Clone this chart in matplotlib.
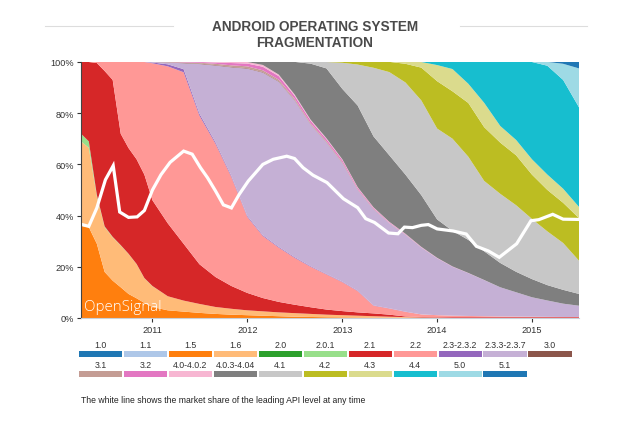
import matplotlib
matplotlib.use("Agg")
import matplotlib.pyplot as plt
from matplotlib.patches import Rectangle
import pandas as pd

# sample dates of the stacked shares (monthly in 2010, then every two months)
months = pd.to_datetime([
    "2010-04-01", "2010-05-01", "2010-06-01", "2010-07-01", "2010-08-01", "2010-09-01",
    "2010-10-01", "2010-11-01", "2010-12-01", "2011-01-01", "2011-03-01", "2011-05-01",
    "2011-07-01", "2011-09-01", "2011-11-01", "2012-01-01", "2012-03-01", "2012-05-01",
    "2012-07-01", "2012-09-01", "2012-11-01", "2013-01-01", "2013-03-01", "2013-05-01",
    "2013-07-01", "2013-09-01", "2013-11-01", "2014-01-01", "2014-03-01", "2014-05-01",
    "2014-07-01", "2014-09-01", "2014-11-01", "2015-01-01", "2015-03-01", "2015-05-01",
    "2015-07-01",
])

versions = ["1.0", "1.1", "1.5", "1.6", "2.0", "2.0.1", "2.1", "2.2", "2.3-2.3.2",
            "2.3.3-2.3.7", "3.0", "3.1", "3.2", "4.0-4.0.2", "4.0.3-4.04", "4.1",
            "4.2", "4.3", "4.4", "5.0", "5.1"]

colors = ["#1f77b4", "#aec7e8", "#ff7f0e", "#ffbb78", "#2ca02c", "#98df8a", "#d62728",
          "#ff9896", "#9467bd", "#c5b0d5", "#8c564b", "#c49c94", "#e377c2", "#f7b6d2",
          "#7f7f7f", "#c7c7c7", "#bcbd22", "#dbdb8d", "#17becf", "#9edae5", "#1f77b4"]

# market share in percent, one value per date above
share_1_0 = [0, 0, 0, 0, 0, 0, 0, 0, 0, 0, 0, 0, 0, 0, 0, 0, 0, 0, 0,
             0, 0, 0, 0, 0, 0, 0, 0, 0, 0, 0, 0, 0, 0, 0, 0, 0, 0]
share_1_1 = [0, 0, 0, 0, 0, 0, 0, 0, 0, 0, 0, 0, 0, 0, 0, 0, 0, 0, 0,
             0, 0, 0, 0, 0, 0, 0, 0, 0, 0, 0, 0, 0, 0, 0, 0, 0, 0]
share_1_5 = [36, 35.5, 29, 18, 14.6, 12, 9.4, 7.7, 5.9, 4.3, 3, 2.5, 2, 1.6, 1.3, 1.1, 0.9, 0.7, 0.5,
             0.4, 0.3, 0.25, 0.2, 0.15, 0.1, 0.05, 0, 0, 0, 0, 0, 0, 0, 0, 0, 0, 0]
share_1_6 = [33, 31, 18.5, 17.5, 16.9, 16.3, 15.6, 13.3, 9.6, 8.1, 5.5, 4.3, 3.5, 2.7, 2.3, 1.9, 1.7, 1.5, 1.4,
             1.2, 1.0, 0.85, 0.7, 0.55, 0.4, 0.3, 0.2, 0.1, 0, 0, 0, 0, 0, 0, 0, 0, 0]
share_2_0 = [0, 0, 0, 0, 0, 0, 0, 0, 0, 0, 0, 0, 0, 0, 0, 0, 0, 0, 0,
             0, 0, 0, 0, 0, 0, 0, 0, 0, 0, 0, 0, 0, 0, 0, 0, 0, 0]
share_2_0_1 = [3, 2.5, 0.6, 0.3, 0.2, 0.15, 0.1, 0.1, 0.1, 0.1, 0, 0, 0, 0, 0, 0, 0, 0, 0,
               0, 0, 0, 0, 0, 0, 0, 0, 0, 0, 0, 0, 0, 0, 0, 0, 0, 0]
share_2_1 = [28, 31, 51.5, 60.7, 61.3, 43.5, 41.3, 40.9, 40.4, 33.5, 28.5, 22.2, 15.5, 11.7, 8.9, 6.8, 5.2, 4.1, 3.3,
             2.6, 2.0, 1.6, 1.3, 1.1, 0.8, 0.25, 0.2, 0.2, 0.3, 0.3, 0.3, 0.3, 0.3, 0.3, 0.3, 0.3, 0.3]
share_2_2 = [0, 0, 0.4, 3.5, 7, 28.1, 33.6, 38, 44, 53.5, 61.3, 67, 58, 52, 42.5, 29.7, 24.2, 21.2, 18.3,
             15.8, 13.7, 11.3, 8.3, 3.0, 2.4, 1.8, 1.0, 0.8, 0.6, 0.5, 0.4, 0.3, 0.25, 0.2, 0.15, 0.1, 0.1]
share_2_3_0 = [0, 0, 0, 0, 0, 0, 0, 0, 0, 0.3, 0.8, 1.2, 0.8, 0.6, 0.5, 0.4, 0.35, 0.3, 0.3,
               0.25, 0.2, 0.2, 0.2, 0.15, 0.1, 0.1, 0, 0, 0, 0, 0, 0, 0, 0, 0, 0, 0]
share_2_3_3 = [0, 0, 0, 0, 0, 0, 0, 0, 0, 0.2, 0.7, 2.3, 19.4, 30, 42.4, 57.5, 63.5, 64.5, 61.2,
               55.3, 51.3, 46.3, 39.3, 37.5, 33.2, 30, 26.1, 22.2, 19.1, 16.7, 14.1, 11.4, 9.5, 7.6, 6.4, 5.2, 4.4]
share_3_0 = [0, 0, 0, 0, 0, 0, 0, 0, 0, 0, 0.1, 0.15, 0.2, 0.2, 0.2, 0.2, 0.2, 0.2, 0.15,
             0.1, 0.1, 0.1, 0.05, 0.05, 0, 0, 0, 0, 0, 0, 0, 0, 0, 0, 0, 0, 0]
share_3_1 = [0, 0, 0, 0, 0, 0, 0, 0, 0, 0, 0.1, 0.2, 0.3, 0.5, 0.6, 0.7, 0.7, 0.6, 0.5,
             0.4, 0.35, 0.3, 0.2, 0.15, 0.1, 0.1, 0.05, 0, 0, 0, 0, 0, 0, 0, 0, 0, 0]
share_3_2 = [0, 0, 0, 0, 0, 0, 0, 0, 0, 0, 0, 0.15, 0.3, 0.5, 0.9, 1.1, 1.4, 1.4, 1.2,
             1.0, 0.9, 0.8, 0.6, 0.4, 0.3, 0.2, 0.15, 0.1, 0.1, 0.05, 0, 0, 0, 0, 0, 0, 0]
share_4_0 = [0, 0, 0, 0, 0, 0, 0, 0, 0, 0, 0, 0, 0, 0.2, 0.4, 0.6, 0.7, 0.6, 0.5,
             0.4, 0.35, 0.3, 0.25, 0.2, 0.15, 0.1, 0.1, 0.1, 0.05, 0.05, 0.05, 0, 0, 0, 0, 0, 0]
share_4_0_3 = [0, 0, 0, 0, 0, 0, 0, 0, 0, 0, 0, 0, 0, 0, 0, 0, 1.2, 4.9, 12.7,
               21.9, 27.3, 27.5, 31.9, 27.7, 26, 23.1, 20.2, 15, 13.9, 12.9, 11.2, 9.5, 8, 7.1, 6.0, 5.4, 4.6]
share_4_1 = [0, 0, 0, 0, 0, 0, 0, 0, 0, 0, 0, 0, 0, 0, 0, 0, 0, 0, 0,
             0.7, 2.5, 10.2, 16, 26.8, 32.5, 36, 37, 35.5, 36, 32.5, 27.5, 27, 26, 23.5, 21, 18.3, 13]
share_4_2 = [0, 0, 0, 0, 0, 0, 0, 0, 0, 0, 0, 0, 0, 0, 0, 0, 0, 0, 0,
             0, 0, 0.3, 1.0, 2.3, 4, 7.3, 12.8, 18.5, 18.5, 21, 21, 20, 19.5, 17.3, 16.2, 15.7, 16.6]
share_4_3 = [0, 0, 0, 0, 0, 0, 0, 0, 0, 0, 0, 0, 0, 0, 0, 0, 0, 0, 0,
             0, 0, 0, 0, 0, 0, 0.7, 2.2, 6.3, 8.7, 7.5, 9.5, 6.5, 6, 6, 6, 5.5, 4.4]
share_4_4 = [0, 0, 0, 0, 0, 0, 0, 0, 0, 0, 0, 0, 0, 0, 0, 0, 0, 0, 0,
             0, 0, 0, 0, 0, 0, 0, 0, 1.2, 2.8, 8.5, 16, 25, 30.5, 38, 42.5, 42.5, 38.9]
share_5_0 = [0, 0, 0, 0, 0, 0, 0, 0, 0, 0, 0, 0, 0, 0, 0, 0, 0, 0, 0,
             0, 0, 0, 0, 0, 0, 0, 0, 0, 0, 0, 0, 0, 0, 0, 1.5, 6.3, 15.2]
share_5_1 = [0, 0, 0, 0, 0, 0, 0, 0, 0, 0, 0, 0, 0, 0, 0, 0, 0, 0, 0,
             0, 0, 0, 0, 0, 0, 0, 0, 0, 0, 0, 0, 0, 0, 0, 0, 0.7, 2.5]

shares = [share_1_0, share_1_1, share_1_5, share_1_6, share_2_0, share_2_0_1, share_2_1,
          share_2_2, share_2_3_0, share_2_3_3, share_3_0, share_3_1, share_3_2, share_4_0,
          share_4_0_3, share_4_1, share_4_2, share_4_3, share_4_4, share_5_0, share_5_1]

# share of whichever API level was leading at the time (the white line)
leader_dates = pd.to_datetime([
    "2010-04-01", "2010-05-01", "2010-06-01", "2010-07-04", "2010-08-03", "2010-08-28",
    "2010-10-01", "2010-11-03", "2010-12-01", "2011-01-01", "2011-02-03", "2011-03-10",
    "2011-05-01", "2011-06-03", "2011-07-05", "2011-08-01", "2011-09-01", "2011-10-01",
    "2011-11-01", "2011-12-01", "2012-01-05", "2012-03-01", "2012-04-10", "2012-06-01",
    "2012-07-01", "2012-08-03", "2012-09-10", "2012-11-03", "2013-01-05", "2013-03-01",
    "2013-04-01", "2013-05-05", "2013-06-28", "2013-08-03", "2013-08-28", "2013-09-28",
    "2013-11-01", "2013-11-28", "2014-01-01", "2014-03-03", "2014-04-23", "2014-06-01",
    "2014-07-17", "2014-08-28", "2014-11-03", "2014-12-28", "2015-01-27", "2015-03-22",
    "2015-05-01", "2015-07-01",
])
leader_share = [36.6, 35.8, 43, 54, 59.5, 41.4, 39.3, 39.5, 42, 50, 56, 60.8,
                65.2, 64, 58.7, 54.8, 49.6, 44.2, 43, 48.3, 53.5, 60, 62, 63.2,
                62.3, 58.7, 55.8, 52.9, 46.6, 43.1, 38.8, 37.3, 33.2, 32.9, 35.5, 35.3,
                36.2, 36.5, 34.8, 34, 32.8, 28, 26.2, 23.7, 29, 38, 38.4, 40.5,
                38.6, 38.5]

years = ["2011", "2012", "2013", "2014", "2015"]
percent_ticks = [0, 20, 40, 60, 80, 100]

W, H = 640, 427
fig = plt.figure(figsize=(W / 100, H / 100), dpi=100)
fig.patch.set_facecolor("white")
plt.rcParams["font.family"] = ["Liberation Sans", "DejaVu Sans"]

ax = fig.add_axes([81 / W, 1 - 319 / H, (579 - 81) / W, 256 / H])
ax.stackplot(months, *shares, colors=colors, linewidth=0)
ax.plot(leader_dates, leader_share, color="white", lw=2.3, solid_joinstyle="miter")

ax.set_xlim(months[0], months[-1])
ax.set_ylim(0, 100)
ax.set_xticks(pd.to_datetime([y + "-01-01" for y in years]))
ax.set_xticklabels(years)
ax.set_yticks(percent_ticks)
ax.set_yticklabels([f"{p}%" for p in percent_ticks])
ax.tick_params(labelsize=6.6, colors="#333333", length=3, width=0.8, pad=2)
for side in ["top", "right"]:
    ax.spines[side].set_visible(False)
ax.spines["left"].set_color("#444444")
ax.spines["bottom"].set_color("#c8d0d8")

ax.text(0.006, 0.015, "OpenSignal", transform=ax.transAxes, color="white",
        fontsize=10.8, family="Open Sans", fontweight="light", ha="left", va="bottom")

# legend: coloured boxes with the version label above
leg = fig.add_axes([78 / W, 1 - 380 / H, (572.5 - 78) / W, 40 / H])
leg.set_xlim(0, 11)
leg.set_ylim(2, 0)
leg.axis("off")
for i, (name, color) in enumerate(zip(versions, colors)):
    row, col = divmod(i, 11)
    leg.add_patch(Rectangle((col + 0.02, row + 0.585), 0.96, 0.3, facecolor=color, edgecolor="none"))
    leg.text(col + 0.5, row + 0.29, name, ha="center", va="center", fontsize=6.3, color="#333333")

# title with rules on both sides
fig.text(315 / W, 1 - 27 / H, "ANDROID OPERATING SYSTEM", ha="center", va="center",
         fontsize=9.8, fontweight="bold", color="#4a4a4a")
fig.text(315 / W, 1 - 43 / H, "FRAGMENTATION", ha="center", va="center",
         fontsize=9.8, fontweight="bold", color="#4a4a4a")
for x0, x1 in [(45, 173), (460, 587)]:
    fig.add_artist(plt.Line2D([x0 / W, x1 / W], [1 - 27 / H, 1 - 27 / H], color="#dddddd", lw=0.8))

fig.text(81 / W, 1 - 401 / H, "The white line shows the market share of the leading API level at any time",
         ha="left", va="center", fontsize=6.2, color="#222222")

fig.savefig("out.png", dpi=100)
